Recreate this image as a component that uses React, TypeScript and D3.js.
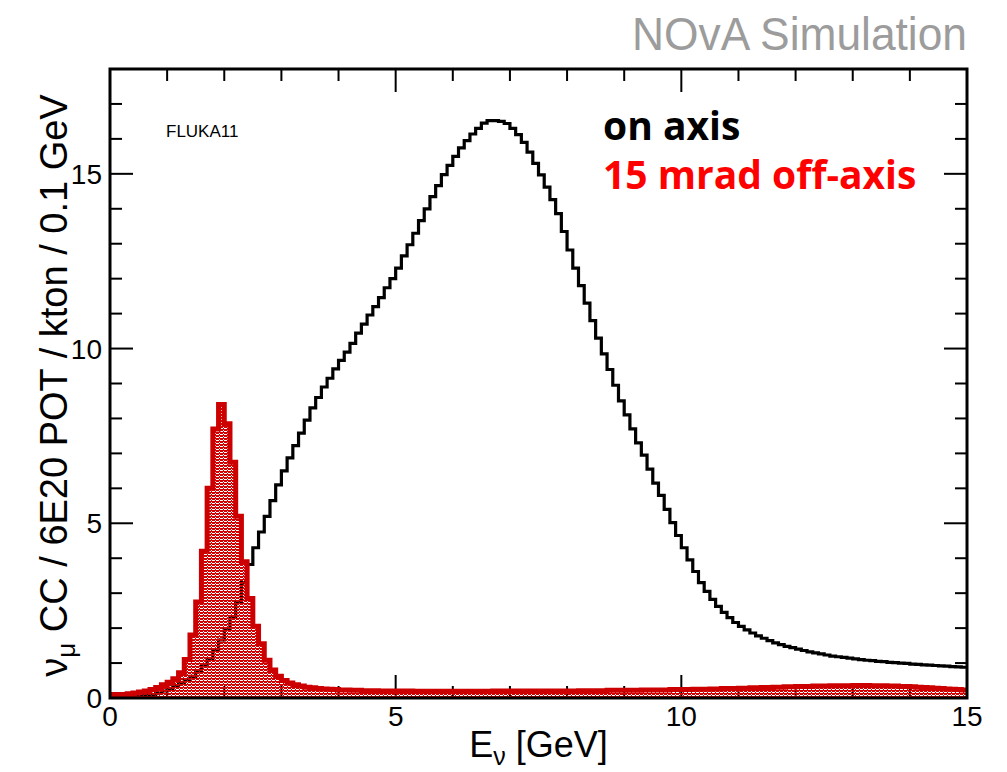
import React from "react";
import * as d3 from "d3";

const binEdgesStart = 0;
const binWidth = 0.1;

const onAxis = [
  0, 0, 0.01, 0.02, 0.03, 0.05, 0.07, 0.1, 0.14, 0.2,
  0.27, 0.35, 0.43, 0.52, 0.62, 0.75, 0.92, 1.12, 1.38, 1.66,
  1.97, 2.32, 2.75, 3.3, 3.82, 4.3, 4.75, 5.2, 5.65, 6.1,
  6.5, 6.87, 7.22, 7.58, 7.95, 8.3, 8.6, 8.9, 9.15, 9.42,
  9.66, 9.9, 10.15, 10.44, 10.7, 10.96, 11.2, 11.46, 11.74, 12.0,
  12.3, 12.65, 12.97, 13.3, 13.66, 14.0, 14.35, 14.66, 14.98, 15.24,
  15.5, 15.74, 15.95, 16.14, 16.3, 16.45, 16.52, 16.52, 16.5, 16.44,
  16.3, 16.12, 15.9, 15.62, 15.3, 14.97, 14.62, 14.26, 13.86, 13.35,
  12.82, 12.3, 11.8, 11.3, 10.8, 10.3, 9.85, 9.4, 8.95, 8.5,
  8.1, 7.7, 7.3, 6.95, 6.55, 6.15, 5.8, 5.4, 5.02, 4.65,
  4.3, 3.95, 3.62, 3.3, 3.05, 2.82, 2.62, 2.45, 2.3, 2.16,
  2.05, 1.95, 1.86, 1.78, 1.71, 1.64, 1.58, 1.53, 1.48, 1.44,
  1.4, 1.36, 1.32, 1.29, 1.26, 1.23, 1.2, 1.18, 1.16, 1.14,
  1.12, 1.1, 1.08, 1.07, 1.05, 1.04, 1.02, 1.01, 1.0, 0.99,
  0.97, 0.96, 0.95, 0.94, 0.93, 0.92, 0.91, 0.9, 0.89, 0.88,
];

const offAxis = [
  0.1, 0.1, 0.1, 0.12, 0.14, 0.17, 0.2, 0.24, 0.3, 0.38,
  0.45, 0.55, 0.72, 1.1, 1.8, 2.75, 4.2, 6.0, 7.7, 8.4,
  7.85, 6.75, 5.2, 3.9, 2.85, 2.05, 1.55, 1.08, 0.8, 0.62,
  0.5, 0.43, 0.38, 0.34, 0.31, 0.29, 0.27, 0.26, 0.25, 0.24,
  0.23, 0.23, 0.22, 0.22, 0.21, 0.21, 0.21, 0.2, 0.2, 0.2,
  0.2, 0.2, 0.2, 0.19, 0.19, 0.19, 0.19, 0.19, 0.19, 0.19,
  0.19, 0.19, 0.19, 0.19, 0.19, 0.19, 0.19, 0.2, 0.2, 0.2,
  0.2, 0.2, 0.2, 0.2, 0.2, 0.2, 0.2, 0.2, 0.2, 0.2,
  0.2, 0.2, 0.21, 0.21, 0.21, 0.21, 0.21, 0.22, 0.22, 0.22,
  0.22, 0.22, 0.22, 0.23, 0.23, 0.23, 0.23, 0.23, 0.24, 0.24,
  0.24, 0.24, 0.25, 0.25, 0.25, 0.26, 0.26, 0.27, 0.27, 0.27,
  0.28, 0.28, 0.29, 0.29, 0.3, 0.3, 0.31, 0.31, 0.32, 0.32,
  0.33, 0.33, 0.33, 0.34, 0.34, 0.34, 0.35, 0.35, 0.35, 0.35,
  0.36, 0.36, 0.36, 0.35, 0.35, 0.35, 0.34, 0.34, 0.33, 0.33,
  0.32, 0.31, 0.3, 0.29, 0.28, 0.27, 0.26, 0.25, 0.24, 0.23,
];

const xMajorTicks = [0, 5, 10, 15];
const xMinorTicks = [1, 2, 3, 4, 6, 7, 8, 9, 11, 12, 13, 14];
const yMajorTicks = [0, 5, 10, 15];
const yMinorTicks = [1, 2, 3, 4, 6, 7, 8, 9, 11, 12, 13, 14, 16, 17];

const legendLabels = ["on axis", "15 mrad off-axis"];

const W = 1007;
const H = 772;
const L = 110, R = 967, T = 69, B = 698;

export default function App() {
  const x = d3.scaleLinear().domain([0, 15]).range([L, R]);
  const y = d3.scaleLinear().domain([0, 18]).range([B, T]);

  const toPts = (vals: number[]) => {
    const pts: [number, number][] = vals.map((v, i) => [binEdgesStart + i * binWidth, v]);
    pts.push([binEdgesStart + vals.length * binWidth, vals[vals.length - 1]]);
    return pts;
  };

  const line = d3
    .line<[number, number]>()
    .x((d) => x(d[0]))
    .y((d) => y(d[1]))
    .curve(d3.curveStepAfter);
  const area = d3
    .area<[number, number]>()
    .x((d) => x(d[0]))
    .y0(y(0))
    .y1((d) => y(d[1]))
    .curve(d3.curveStepAfter);

  const blackPts = toPts(onAxis);
  const redPts = toPts(offAxis);
  const majorLen = 23;
  const minorLen = 12;
  const font = "'Liberation Sans', Arial, sans-serif";
  const legendFont = "'Open Sans', Lato, sans-serif";

  return (
    <svg width={W} height={H} style={{ display: "block", position: "absolute", left: 0, top: 0 }}>
      <defs>
        <pattern id="dots" width="4" height="3" patternUnits="userSpaceOnUse">
          <rect x="0" y="0" width="4" height="1" fill="#d40000" />
          <rect x="0" y="1" width="3" height="1" fill="#d40000" />
          <rect x="3" y="2" width="1" height="1" fill="#d40000" />
        </pattern>
        <clipPath id="plot">
          <rect x={L} y={T} width={R - L} height={B - T} />
        </clipPath>
      </defs>
      <rect x={0} y={0} width={W} height={H} fill="#fff" />
      <text x={967} y={50} textAnchor="end" fill="#9c9c9c"
        style={{ fontFamily: "'Liberation Sans Narrow', 'Liberation Sans', Arial, sans-serif", fontSize: 47 }}
        textLength={335} lengthAdjust="spacingAndGlyphs">NOvA Simulation</text>

      {/* ticks */}
      <g stroke="#000" strokeWidth={2}>
        {xMajorTicks.map((t) => (
          <g key={"xm" + t}>
            <line x1={x(t)} x2={x(t)} y1={B} y2={B - majorLen} />
            <line x1={x(t)} x2={x(t)} y1={T} y2={T + majorLen} />
          </g>
        ))}
        {xMinorTicks.map((t) => (
          <g key={"xn" + t}>
            <line x1={x(t)} x2={x(t)} y1={B} y2={B - minorLen} />
            <line x1={x(t)} x2={x(t)} y1={T} y2={T + minorLen} />
          </g>
        ))}
        {yMajorTicks.map((t) => (
          <g key={"ym" + t}>
            <line x1={L} x2={L + majorLen} y1={y(t)} y2={y(t)} />
            <line x1={R} x2={R - majorLen} y1={y(t)} y2={y(t)} />
          </g>
        ))}
        {yMinorTicks.map((t) => (
          <g key={"yn" + t}>
            <line x1={L} x2={L + minorLen} y1={y(t)} y2={y(t)} />
            <line x1={R} x2={R - minorLen} y1={y(t)} y2={y(t)} />
          </g>
        ))}
      </g>

      <g clipPath="url(#plot)">
        <path d={line(blackPts) ?? ""} fill="none" stroke="#000" strokeWidth={3.2} />
        <path d={area(redPts) ?? ""} fill="url(#dots)" stroke="none" />
        <path d={line(redPts) ?? ""} fill="none" stroke="#cc0000" strokeWidth={5} />
      </g>

      <rect x={L} y={T} width={R - L} height={B - T} fill="none" stroke="#000" strokeWidth={3} />

      {/* tick labels */}
      <g style={{ fontFamily: font, fontSize: 28 }} fill="#000">
        {xMajorTicks.map((t) => (
          <text key={"xl" + t} x={x(t)} y={726} textAnchor="middle">{t}</text>
        ))}
        {yMajorTicks.map((t) => (
          <text key={"yl" + t} x={102} y={y(t) + 10} textAnchor="end">{t}</text>
        ))}
      </g>

      {/* axis titles */}
      <text x={(L + R) / 2} y={757} textAnchor="middle" style={{ fontFamily: font, fontSize: 36 }}>
        E<tspan dy={8} style={{ fontSize: 25 }}>ν</tspan>
        <tspan dy={-8}> [GeV]</tspan>
      </text>
      <text transform={`translate(67, ${(T + B) / 2 + 2}) rotate(-90)`} textAnchor="middle"
        style={{ fontFamily: font, fontSize: 38 }}>
        ν<tspan dy={8} style={{ fontSize: 26 }}>μ</tspan>
        <tspan dy={-8}> CC / 6E20 POT / kton / 0.1 GeV</tspan>
      </text>

      <text x={166} y={137} style={{ fontFamily: font, fontSize: 17 }}>FLUKA11</text>

      <text x={603} y={140} style={{ fontFamily: legendFont, fontSize: 39, fontWeight: 700 }} fill="#000">{legendLabels[0]}</text>
      <text x={603} y={189} style={{ fontFamily: legendFont, fontSize: 39, fontWeight: 700 }} fill="#ff0000">{legendLabels[1]}</text>
    </svg>
  );
}
